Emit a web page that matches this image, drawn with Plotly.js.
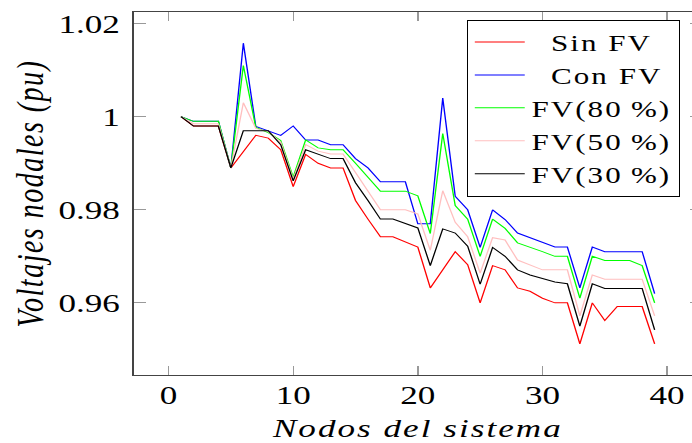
<!DOCTYPE html>
<html>
<head>
<meta charset="utf-8">
<script src="https://cdn.plot.ly/plotly-3.0.1.min.js"></script>
<style>
html,body{margin:0;padding:0;overflow:hidden;background:#fff;}
#chart{width:534px;height:443px;transform:scaleX(1.35);transform-origin:0 0;}
.legendtext{letter-spacing:1.5px;}
.xtitle{letter-spacing:1.5px;}
.ytitle{letter-spacing:1.5px;}
</style>
</head>
<body>
<div id="chart"></div>
<script>
const nodes = [1,2,3,4,5,6,7,8,9,10,11,12,13,14,15,16,17,18,19,20,21,22,23,24,25,26,27,28,29,30,31,32,33,34,35,36,37,38,39];

const sinFV = [1.000,0.998,0.998,0.998,0.989,0.9925,0.996,0.9954,0.9929,0.985,
  0.9919,0.990,0.989,0.989,0.982,0.978,0.9742,0.9742,0.9731,0.972,
  0.9632,0.967,0.971,0.9682,0.960,0.968,0.9671,0.9632,0.9625,0.961,
  0.960,0.960,0.9512,0.960,0.9562,0.9592,0.9592,0.9592,0.9512];

const conFV = [1.000,0.999,0.999,0.999,0.989,1.0158,0.9979,0.997,0.996,0.998,
  0.995,0.995,0.994,0.994,0.991,0.989,0.986,0.986,0.986,0.977,
  0.977,1.004,0.9829,0.980,0.9719,0.980,0.9779,0.975,0.974,0.973,
  0.972,0.972,0.9632,0.972,0.971,0.971,0.971,0.971,0.962];

const fv80 = [1.000,0.999,0.999,0.999,0.989,1.011,0.9977,0.9966,0.9949,0.987,
  0.995,0.9933,0.9929,0.9929,0.990,0.987,0.984,0.984,0.984,0.983,
  0.9749,0.9964,0.9809,0.978,0.970,0.978,0.976,0.9729,0.972,0.971,
  0.970,0.970,0.961,0.970,0.9691,0.9691,0.9691,0.968,0.960];

const fv50 = [1.000,0.9985,0.9985,0.9985,0.989,1.003,0.9975,0.9968,0.9945,0.9866,
  0.994,0.9926,0.992,0.992,0.988,0.984,0.980,0.980,0.980,0.9791,
  0.9713,0.9841,0.9773,0.9742,0.9664,0.974,0.9735,0.9692,0.9682,0.9671,
  0.9671,0.9671,0.9572,0.966,0.9651,0.9651,0.9651,0.9651,0.9572];

const fv30 = [1.000,0.998,0.998,0.998,0.989,0.997,0.997,0.997,0.994,0.9862,
  0.9929,0.9919,0.991,0.991,0.9858,0.982,0.978,0.978,0.9771,0.9761,
  0.968,0.9759,0.975,0.9722,0.964,0.9719,0.970,0.9671,0.966,0.9652,
  0.9645,0.9641,0.955,0.9641,0.9631,0.9631,0.9631,0.9631,0.9542];

const seriesNames = ['\u00a0\u00a0Sin FV', '\u00a0\u00a0Con FV', 'FV(80\u2009%)', 'FV(50\u2009%)', 'FV(30\u2009%)'];
const seriesData = [sinFV, conFV, fv80, fv50, fv30];
const seriesColors = ['#ff0000', '#0000ff', '#00ff00', '#ffbfbf', '#000000'];

const xTicks = [0,10,20,30,40];
const yTicks = [0.96,0.98,1,1.02];
const yTickText = ['0.96','0.98','1','1.02'];

const FONT = 'Liberation Serif';

const traces = seriesData.map((d,i) => ({
  x: nodes, y: d, type: 'scatter', mode: 'lines',
  name: seriesNames[i],
  line: {color: seriesColors[i], width: 1}
}));

const layout = {
  width: 534, height: 443,
  margin: {l: 98.5, r: 13.5, t: 10, b: 68},
  paper_bgcolor: '#fff', plot_bgcolor: '#fff',
  showlegend: true,
  font: {family: FONT, size: 26, color: '#000'},
  xaxis: {
    range: [-2.8, 42.8], tickvals: xTicks, ticktext: xTicks.map(String),
    ticks: 'inside', ticklen: 9, tickcolor: '#999', tickwidth: 1,
    showline: true, linecolor: '#444', linewidth: 1, mirror: 'ticks',
    showgrid: false, zeroline: false, automargin: false,
    tickfont: {family: FONT, size: 26, color: '#000'},
    ticklabelstandoff: -3,
    title: {text: '<i>Nodos del sistema</i>', font: {family: FONT, size: 26, color: '#000'}}
  },
  yaxis: {
    range: [0.9445, 1.0225], tickvals: yTicks, ticktext: yTickText,
    ticks: 'inside', ticklen: 9, tickcolor: '#999', tickwidth: 1,
    showline: true, linecolor: '#444', linewidth: 1, mirror: 'ticks',
    showgrid: false, zeroline: false, automargin: true,
    tickfont: {family: FONT, size: 26, color: '#000'},
    ticklabelstandoff: 4,
    title: {text: '<i>Voltajes nodales (pu)</i>', font: {family: FONT, size: 28, color: '#000'}, standoff: 2}
  },
  legend: {
    x: 0.586, y: 0.979, xanchor: 'left', yanchor: 'top',
    bgcolor: '#fff', bordercolor: '#000', borderwidth: 1,
    font: {family: FONT, size: 23, color: '#000'},
    tracegroupgap: 0, itemwidth: 37
  }
};

Plotly.newPlot('chart', traces, layout, {displayModeBar: false, staticPlot: true});
</script>
</body>
</html>
